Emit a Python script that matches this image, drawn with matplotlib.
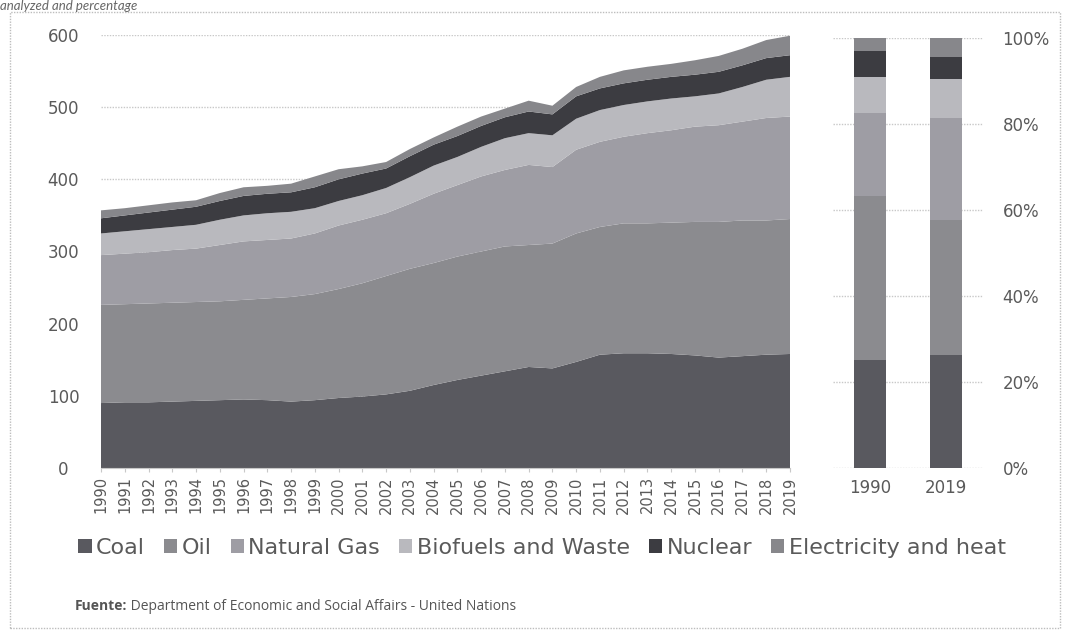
import numpy as np
import matplotlib.pyplot as plt
from matplotlib.patches import Rectangle

# Consumo de energía por fuente
years = list(range(1990, 2020))
coal = [90, 91, 91, 92, 93, 94, 95, 94, 92, 94, 97, 99, 102, 107, 115,
        122, 128, 134, 140, 138, 147, 157, 159, 159, 158, 156, 153, 155, 157, 158]
oil = [136, 136, 137, 137, 137, 137, 138, 141, 145, 147, 151, 157, 164, 169, 169,
       171, 172, 173, 169, 173, 178, 177, 180, 180, 182, 185, 188, 188, 186, 187]
natural_gas = [69, 70, 71, 73, 74, 78, 81, 81, 81, 84, 88, 88, 87, 90, 96,
               99, 104, 106, 111, 106, 116, 118, 120, 125, 128, 132, 134, 137, 142, 142]
biofuels = [30, 31, 32, 32, 33, 35, 36, 37, 37, 35, 34, 34, 35, 37, 39,
            39, 41, 44, 44, 44, 43, 44, 44, 44, 44, 42, 44, 48, 53, 55]
nuclear = [21, 22, 23, 24, 25, 26, 27, 27, 27, 29, 30, 30, 27, 29, 29,
           29, 29, 29, 30, 29, 31, 30, 30, 30, 30, 30, 30, 30, 30, 30]
electricity = [11, 10, 10, 10, 9, 11, 12, 11, 12, 15, 14, 10, 9, 10, 10,
               13, 13, 12, 15, 12, 13, 16, 18, 18, 18, 20, 22, 23, 25, 27]

labels = ["Coal", "Oil", "Natural Gas", "Biofuels and Waste", "Nuclear", "Electricity and heat"]
colors = ["#59595f", "#8b8b8f", "#9e9da4", "#b9b9be", "#3c3c41", "#87878b"]
bar_years = ["1990", "2019"]

series = [coal, oil, natural_gas, biofuels, nuclear, electricity]

text_col = "#5a5a5a"
grid_col = "#c8c8c8"
font = "DejaVu Sans"

fig = plt.figure(figsize=(10.65, 6.32), dpi=100)

# marco punteado del gráfico
fig.patches.append(Rectangle((10 / 1065, 1 - 628 / 632), 1050 / 1065, 616 / 632,
                             transform=fig.transFigure, fill=False,
                             edgecolor="#bdbdbd", linestyle=(0, (1, 1)), linewidth=1))

# texto de arriba (en la captura aparece cortado)
fig.text(0.0, 1.0, "analyzed and percentage", fontsize=9.5, style="italic",
         color="#666666", family="Lato", va="top", ha="left")

# --- área apilada ---
ax = fig.add_axes([101 / 1065, 1 - 468 / 632, 689 / 1065, 433 / 632])
ax.stackplot(years, *series, colors=colors, labels=labels, linewidth=0)
ax.set_xlim(1990, 2019)
ax.set_ylim(0, 600)
ax.set_yticks(range(0, 601, 100))
ax.set_xticks(years)
ax.set_xticklabels([str(y) for y in years], rotation=90)
ax.yaxis.grid(True, color=grid_col, linestyle=(0, (1, 1)), linewidth=1)
ax.set_axisbelow(True)
for s in ["top", "right", "left"]:
    ax.spines[s].set_visible(False)
ax.spines["bottom"].set_color(grid_col)
ax.tick_params(axis="y", length=0, pad=27, labelsize=12, labelcolor=text_col)
ax.tick_params(axis="x", length=3, color=grid_col, pad=3, labelsize=10.5, labelcolor=text_col)
for t in ax.get_yticklabels():
    t.set_horizontalalignment("center")
for t in ax.get_xticklabels() + ax.get_yticklabels():
    t.set_family(font)

# --- barras 100% ---
first = np.array([s[0] for s in series], dtype=float)
last = np.array([s[-1] for s in series], dtype=float)
shares = np.vstack([first / first.sum(), last / last.sum()]) * 100

bx = fig.add_axes([833 / 1065, 1 - 468 / 632, 150 / 1065, 430 / 632])
pos = np.arange(len(bar_years))
bottom = np.zeros(len(bar_years))
for i in range(len(labels)):
    bx.bar(pos, shares[:, i], bottom=bottom, width=0.41, color=colors[i], linewidth=0)
    bottom += shares[:, i]
bx.set_xlim(-0.487, 1.487)
bx.set_ylim(0, 100)
bx.set_yticks(range(0, 101, 20))
bx.set_yticklabels([f"{v}%" for v in range(0, 101, 20)])
bx.set_xticks(pos)
bx.set_xticklabels(bar_years)
bx.yaxis.tick_right()
bx.yaxis.grid(True, color=grid_col, linestyle=(0, (1, 1)), linewidth=1)
bx.set_axisbelow(True)
for s in bx.spines.values():
    s.set_visible(False)
bx.tick_params(axis="y", length=0, pad=14, labelsize=12, labelcolor=text_col)
bx.tick_params(axis="x", length=0, pad=8, labelsize=12, labelcolor=text_col)
for t in bx.get_xticklabels() + bx.get_yticklabels():
    t.set_family(font)

# leyenda
handles, lbls = ax.get_legend_handles_labels()
fig.legend(handles, lbls, loc="center", bbox_to_anchor=(542 / 1065, 1 - 548 / 632),
           ncol=6, frameon=False, handlelength=0.6, handleheight=0.6,
           handletextpad=0.2, columnspacing=0.85,
           prop={"family": font, "size": 16}, labelcolor=text_col)

# fuente
src = fig.text(75 / 1065, 1 - 606 / 632, "Fuente:", fontsize=10, fontweight="bold",
               color="#555555", family="Open Sans", va="center")
ax.annotate(" Department of Economic and Social Affairs - United Nations",
            xy=(1, 0.5), xycoords=src, va="center", ha="left",
            fontsize=10, color="#555555", family="Open Sans", annotation_clip=False)

fig.savefig("out.png", dpi=100)
